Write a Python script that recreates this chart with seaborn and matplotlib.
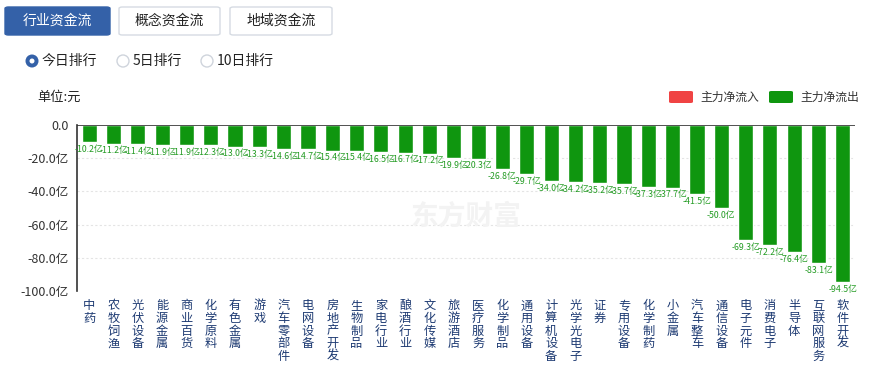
import matplotlib
matplotlib.use("Agg")
import matplotlib.pyplot as plt
import seaborn as sns
import pandas as pd
from matplotlib.patches import FancyBboxPatch, Ellipse

# sector names (net outflow today)
sectors = ['中药', '农牧饲渔', '光伏设备', '能源金属', '商业百货', '化学原料', '有色金属', '游戏',
           '汽车零部件', '电网设备', '房地产开发', '生物制品', '家电行业', '酿酒行业', '文化传媒',
           '旅游酒店', '医疗服务', '化学制品', '通用设备', '计算机设备', '光学光电子', '证券',
           '专用设备', '化学制药', '小金属', '汽车整车', '通信设备', '电子元件', '消费电子',
           '半导体', '互联网服务', '软件开发']
# main net flow, unit: 亿
flows = [-10.2, -11.2, -11.4, -11.9, -11.9, -12.3, -13.0, -13.3, -14.6, -14.7, -15.4, -15.4,
         -16.5, -16.7, -17.2, -19.9, -20.3, -26.8, -29.7, -34.0, -34.2, -35.2, -35.7, -37.3,
         -37.7, -41.5, -50.0, -69.3, -72.2, -76.4, -83.1, -94.5]
yticks = [0, -20, -40, -60, -80, -100]

sns.set_theme(style="white")
plt.rcParams['font.family'] = ['Noto Sans CJK SC', 'DejaVu Sans']

W, H = 869, 367
fig = plt.figure(figsize=(W / 100, H / 100), dpi=100)


def fx(x):
    return x / W


def fy(y):
    return 1 - y / H


# tab buttons
tabs = [('行业资金流', 5, 110, True), ('概念资金流', 119, 220, False), ('地域资金流', 230, 332, False)]
for label, x0, x1, active in tabs:
    box = FancyBboxPatch((fx(x0), fy(35)), fx(x1 - x0), 28 / H,
                         boxstyle="round,pad=0,rounding_size=0.004",
                         transform=fig.transFigure,
                         facecolor='#3461a8' if active else 'white',
                         edgecolor='#3461a8' if active else '#d6dbe3', lw=1)
    fig.patches.append(box)
    fig.text(fx((x0 + x1) / 2), fy(21), label, ha='center', va='center', fontsize=10,
             color='white' if active else '#222222')

# radio row
radios = [('今日排行', 32, True), ('5日排行', 123, False), ('10日排行', 207, False)]
for label, cx, on in radios:
    if on:
        fig.patches.append(Ellipse((fx(cx), fy(61)), 13 / W, 13 / H, transform=fig.transFigure,
                                   facecolor='#3461a8', edgecolor='none'))
        fig.patches.append(Ellipse((fx(cx), fy(61)), 5 / W, 5 / H, transform=fig.transFigure,
                                   facecolor='white', edgecolor='none'))
    else:
        fig.patches.append(Ellipse((fx(cx), fy(61)), 12 / W, 12 / H, transform=fig.transFigure,
                                   facecolor='white', edgecolor='#cfd4dc', lw=1))
    fig.text(fx(cx + 10), fy(61), label, ha='left', va='center', fontsize=10, color='#222222')

fig.text(fx(37), fy(97), '单位:元', ha='left', va='center', fontsize=9.5, color='#222222')

# legend
for label, x0, col in [('主力净流入', 669, '#f04343'), ('主力净流出', 769, '#0f960f')]:
    r = FancyBboxPatch((fx(x0), fy(103)), fx(24), 12 / H,
                       boxstyle="round,pad=0,rounding_size=0.003",
                       transform=fig.transFigure, facecolor=col, edgecolor='none')
    fig.patches.append(r)
    fig.text(fx(x0 + 31), fy(97), label, ha='left', va='center', fontsize=8.5, color='#333333')

ax = fig.add_axes([fx(77), fy(291), fx(855 - 77), (291 - 125) / H])
df = pd.DataFrame({'sector': sectors, 'flow': flows})
sns.barplot(data=df, x='sector', y='flow', color='#0f960f', saturation=1, width=0.62, ax=ax)

ax.set_ylim(-100, 0)
ax.set_xlim(-0.5, len(sectors) - 0.5)
ax.set_yticks(yticks)
ax.set_yticklabels(['0.0'] + ['%.1f亿' % v for v in yticks[1:]], fontsize=9, color='#333333')
ax.set_xticks(range(len(sectors)))
ax.set_xticklabels(['\n'.join(s) for s in sectors], fontsize=8.8, color='#1d3a72',
                   linespacing=0.96, va='top')
ax.tick_params(axis='x', length=0, pad=6)
ax.tick_params(axis='y', length=0, pad=6)
ax.set_xlabel('')
ax.set_ylabel('')

for v in yticks[1:-1]:
    ax.axhline(v, color='#e4e4e4', lw=0.8, ls=(0, (2, 2)), zorder=0)
ax.axhline(0, color='#333333', lw=1.2, zorder=3)
for s in ['top', 'right', 'bottom']:
    ax.spines[s].set_visible(False)
ax.spines['left'].set_color('#333333')
ax.spines['left'].set_linewidth(1.2)

for i, v in enumerate(flows):
    ax.annotate('%.1f亿' % v, xy=(i, v), xytext=(0, -2), textcoords='offset points',
                ha='center', va='top', fontsize=6.3, color='#239b23', annotation_clip=False)

# faint site watermark
ax.text(0.5, 0.45, '东方财富', transform=ax.transAxes, ha='center', va='center',
        fontsize=20, fontweight='bold', color='#f3f3f3', zorder=0)

fig.savefig('out.png', dpi=100)
